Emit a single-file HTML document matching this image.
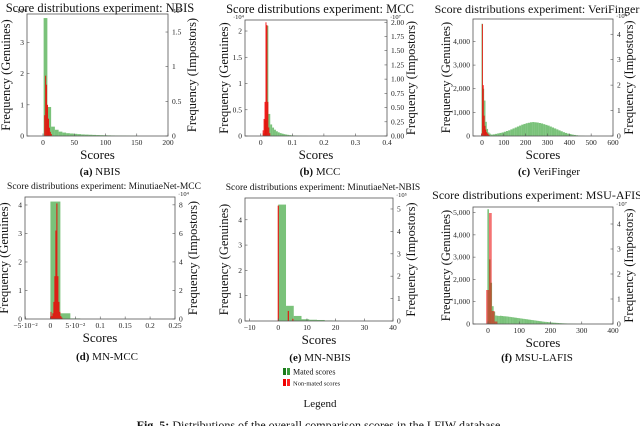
<!DOCTYPE html>
<html><head><meta charset="utf-8"><style>
body{margin:0;background:#fff}
svg{display:block;font-family:"Liberation Serif",serif}
</style></head><body>
<svg id="fig" width="640" height="426" viewBox="0 0 640 426"></svg>
<script>
// ---------- DATA ----------
// (a) NBIS
const aGenStart=1, aGenStep=6;
const aGenCounts=[3.78,0.93,0.3,0.2,0.14,0.11,0.09,0.08,0.07,0.06,0.05,0.045,0.04,0.035,0.03,0.027,0.024,0.02,0.017,0.014,0.012,0.01,0.008,0.006,0.005];
const aImpStart=2, aImpStep=1.5;
const aImpCounts=[0.3,0.87,0.74,0.45,0.25,0.12,0.06,0.03];
// (b) MCC
const bGenStart=0.006, bGenStep=0.006;
const bGenCounts=[0.05,0.3,2.1,0.42,0.22,0.16,0.12,0.09,0.07,0.055,0.045,0.035,0.028,0.022,0.017,0.013,0.01,0.008,0.006,0.004,0.003,0.002,0.002,0.001];
const bImpStart=0.006, bImpStep=0.003;
const bImpCounts=[0.1,0.3,0.6,2.0,1.95,0.6,0.15,0.05];
// (c) VeriFinger
const cGenStart=-2, cGenStep=6;
const cGenCounts=[4750,2000,1500,600,300,150,100];
const cGen2Start=40, cGen2Step=10;
const cGen2Counts=[60,70,90,110,130,150,180,210,240,280,320,360,400,440,480,510,540,560,580,590,580,570,550,530,500,470,440,400,360,320,280,240,200,160,130,100,80,60,45,30,20,12,8];
const cImpStart=-4, cImpStep=4;
const cImpCounts=[0.1,4.4,2.0,0.8,0.4,0.25,0.15,0.1,0.06,0.03];
// (d) MN-MCC
const dGenStart=0, dGenStep=0.02;
const dGenCounts=[4.12,0.2,0.02];
const dImpStart=0, dImpStep=0.002;
const dImpCounts=[0.5,0.2,0.4,1.2,3.0,6.2,8.1,3.0,1.2,0.5,0.2,0.1];
// (e) MN-NBIS
const eGenStart=0, eGenStep=2.7;
const eGenCounts=[4.6,0.6,0.2,0.07,0.05,0.04,0.02,0.01];
const eImpStart=-0.2, eImpStep=0.4;
const eImpCounts=[5.15];
const eImp2Start=3.3, eImp2Step=0.4;
const eImp2Counts=[0.45,0,0,0,0.1];
// (f) MSU-LAFIS
const fGenStart=-2, fGenStep=5;
const fGenCounts=[5150,2900,1850,800,550,380,370,360,370,360,350,345,340,330,320,310,300,290,280,270,260,250,240,230,220,210,200,190,180,170,160,150,140,130,120,110,100,95,90,80,70,65,60,55,50,45,40,35,30,27,24,21,18,15,12,10,8,6,5,4,3,2,2,1,1,1];
const fImpStart=-6, fImpStep=9;
const fImpCounts=[1.36,4.44,0.52,0.1];
// tick arrays
const aXT=[0,50,100,150,200], aYL=[0,1,2,3], aYR=[0,0.5,1,1.5];
const bXT=[0,0.1,0.2,0.3,0.4], bYL=[0,0.5,1,1.5,2], bYR=[0,0.25,0.5,0.75,1,1.25,1.5,1.75,2];
const bYRLab=["0.00","0.25","0.50","0.75","1.00","1.25","1.50","1.75","2.00"];
const cXT=[0,100,200,300,400,500,600], cYL=[0,1000,2000,3000,4000], cYR=[0,1,2,3,4];
const cYLLab=["0","1,000","2,000","3,000","4,000"];
const dXT=[-0.05,0,0.05,0.1,0.15,0.2,0.25], dYL=[0,1,2,3,4], dYR=[0,2,4,6,8];
const dXLab=["−5·10⁻²","0","5·10⁻²","0.1","0.15","0.2","0.25"];
const eXT=[-10,0,10,20,30,40], eYL=[0,1,2,3,4], eYR=[0,1,2,3,4,5];
const eXLab=["−10","0","10","20","30","40"];
const fXT=[0,100,200,300,400], fYL=[0,1000,2000,3000,4000,5000], fYR=[0,1,2,3,4];
const fYLLab=["0","1,000","2,000","3,000","4,000","5,000"];

const NS="http://www.w3.org/2000/svg";
const svg=document.getElementById('fig');
function mk(tag,attrs,parent,txt){const e=document.createElementNS(NS,tag);for(const k in attrs)e.setAttribute(k,attrs[k]);if(txt!==undefined)e.textContent=txt;(parent||svg).appendChild(e);return e;}

function panel(p){
  const g=mk('g',{});
  
  
  const sx=v=>p.x0+(v-p.xmin)/(p.xmax-p.xmin)*(p.x1-p.x0);
  const syL=v=>p.y1-v/p.ylmax*(p.y1-p.y0);
  const syR=v=>p.y1-v/p.yrmax*(p.y1-p.y0);
  const cid='clip-'+p.name;
  const cp=mk('clipPath',{id:cid},g);mk('rect',{x:p.x0,y:p.y0,width:p.x1-p.x0,height:p.y1-p.y0},cp);
  const bars=mk('g',{'clip-path':'url(#'+cid+')'},g);
  p.gen.forEach(s=>{s.counts.forEach((c,i)=>{if(!c)return;const xa=sx(s.start+i*s.step),xb=sx(s.start+(i+1)*s.step);
    const r=mk('rect',{x:xa,y:syL(c),width:Math.max(0.6,xb-xa),height:p.y1-syL(c),fill:'rgba(70,170,70,0.72)'},bars);
    
    });});
  p.imp.forEach(s=>{s.counts.forEach((c,i)=>{if(!c)return;const xa=sx(s.start+i*s.step),xb=sx(s.start+(i+1)*s.step);
    const r=mk('rect',{x:xa,y:syR(c),width:Math.max(0.6,xb-xa),height:p.y1-syR(c),fill:p.red||'rgba(240,0,0,0.9)'},bars);
    
    });});
  mk('rect',{x:p.x0,y:p.y0,width:p.x1-p.x0,height:p.y1-p.y0,fill:'none',stroke:'#555','stroke-width':0.8},g);
  p.xt.forEach((v,i)=>{const x=sx(v);mk('line',{x1:x,x2:x,y1:p.y1,y2:p.y1-2.5,stroke:'#555','stroke-width':0.6},g);
    mk('text',{x:x,y:p.y1+9,'font-size':7.5,'text-anchor':'middle',fill:'#222'},g,p.xl?p.xl[i]:String(v));});
  p.yl.forEach((v,i)=>{const y=syL(v);mk('line',{x1:p.x0,x2:p.x0+2.5,y1:y,y2:y,stroke:'#555','stroke-width':0.6},g);
    mk('text',{x:p.x0-3,y:y+2.5,'font-size':7.5,'text-anchor':'end',fill:'#222'},g,p.yll?p.yll[i]:String(v));});
  p.yr.forEach((v,i)=>{const y=syR(v);mk('line',{x1:p.x1,x2:p.x1-2.5,y1:y,y2:y,stroke:'#555','stroke-width':0.6},g);
    mk('text',{x:p.x1+4,y:y+2.5,'font-size':7.5,'text-anchor':'start',fill:'#222'},g,p.yrl?p.yrl[i]:String(v));});
  if(p.expL)mk('text',{x:p.x0-12,y:p.y0-1,'font-size':6.5,fill:'#222'},g,p.expL);
  if(p.expR)mk('text',{x:p.x1+3,y:p.y0-1,'font-size':6.5,fill:'#222'},g,p.expR);
  const t=mk('text',{x:p.tx,y:p.ty,'font-size':p.tfs,'text-anchor':'middle',fill:'#111'},g,p.title);
  
  const xl=mk('text',{x:(p.x0+p.x1)/2,y:p.y1+23,'font-size':13,'text-anchor':'middle',fill:'#111'},g,'Scores');
  
  const cy=(p.y0+p.y1)/2;
  const ll=mk('text',{x:p.lx,y:cy,'font-size':12.5,'text-anchor':'middle',fill:'#111',transform:'rotate(-90 '+p.lx+' '+cy+')'},g,'Frequency (Genuines)');
  
  const rl=mk('text',{x:p.rx,y:cy,'font-size':12.5,'text-anchor':'middle',fill:'#111',transform:'rotate(-90 '+p.rx+' '+cy+')'},g,'Frequency (Impostors)');
  
  const cap=mk('text',{x:p.cx,y:p.cy,'font-size':11,'text-anchor':'middle',fill:'#111'},g);
  mk('tspan',{'font-weight':'bold'},cap,p.capL+' ');mk('tspan',{},cap,p.capR);
  
}

panel({name:'nbis-panel',x0:27,x1:168,y0:14,y1:136,xmin:-25.6,xmax:200,ylmax:3.91,yrmax:1.76,
 gen:[{start:aGenStart,step:aGenStep,counts:aGenCounts}],imp:[{start:aImpStart,step:aImpStep,counts:aImpCounts}],
 xt:aXT,yl:aYL,yr:aYR,expL:'·10⁴',expR:'·10⁵',title:'Score distributions experiment: NBIS',tx:100,ty:12,tfs:12.5,
 lx:10,rx:196,cx:100,cy:175,capL:'(a)',capR:'NBIS'});
panel({name:'mcc-panel',x0:245,x1:387,y0:20,y1:136,xmin:-0.05,xmax:0.4,ylmax:2.21,yrmax:2.04,
 gen:[{start:bGenStart,step:bGenStep,counts:bGenCounts}],imp:[{start:bImpStart,step:bImpStep,counts:bImpCounts}],
 xt:bXT,yl:bYL,yr:bYR,yrl:bYRLab,expL:'·10⁴',expR:'·10⁷',title:'Score distributions experiment: MCC',tx:320,ty:13,tfs:12.5,
 lx:228,rx:415,cx:320,cy:175,capL:'(b)',capR:'MCC'});
panel({name:'verifinger-panel',x0:473,x1:613,y0:19,y1:136,xmin:-41,xmax:600,ylmax:4950,yrmax:4.6,
 gen:[{start:cGenStart,step:cGenStep,counts:cGenCounts},{start:cGen2Start,step:cGen2Step,counts:cGen2Counts}],imp:[{start:cImpStart,step:cImpStep,counts:cImpCounts}],
 xt:cXT,yl:cYL,yll:cYLLab,yr:cYR,expR:'·10⁴',title:'Score distributions experiment: VeriFinger',tx:537,ty:13,tfs:12,
 lx:450,rx:633,cx:549,cy:175,capL:'(c)',capR:'VeriFinger'});
panel({name:'mn-mcc-panel',x0:25,x1:175,y0:197,y1:319,xmin:-0.051,xmax:0.25,ylmax:4.28,yrmax:8.55,
 gen:[{start:dGenStart,step:dGenStep,counts:dGenCounts}],imp:[{start:dImpStart,step:dImpStep,counts:dImpCounts}],
 xt:dXT,xl:dXLab,yl:dYL,yr:dYR,expR:'·10⁴',title:'Score  distributions experiment: MinutiaeNet-MCC',tx:104,ty:189,tfs:9.5,
 lx:8,rx:197,cx:107,cy:360,capL:'(d)',capR:'MN-MCC'});
panel({name:'mn-nbis-panel',x0:245,x1:393,y0:198,y1:321,xmin:-11.6,xmax:40,ylmax:4.86,yrmax:5.49,
 gen:[{start:eGenStart,step:eGenStep,counts:eGenCounts}],imp:[{start:eImpStart,step:eImpStep,counts:eImpCounts},{start:eImp2Start,step:eImp2Step,counts:eImp2Counts}],
 xt:eXT,xl:eXLab,yl:eYL,yr:eYR,expR:'·10⁵',title:'Score  distributions experiment: MinutiaeNet-NBIS',tx:323,ty:190,tfs:9.5,
 lx:228,rx:415,cx:320,cy:361,capL:'(e)',capR:'MN-NBIS'});
panel({name:'msu-lafis-panel',x0:473,x1:613,y0:207,y1:324,xmin:-48,xmax:400,ylmax:5250,yrmax:4.68,red:'rgba(235,0,0,0.55)',
 gen:[{start:fGenStart,step:fGenStep,counts:fGenCounts}],imp:[{start:fImpStart,step:fImpStep,counts:fImpCounts}],
 xt:fXT,yl:fYL,yll:fYLLab,yr:fYR,expR:'·10⁷',title:'Score distributions experiment: MSU-AFIS',tx:537,ty:199,tfs:12,
 lx:450,rx:633,cx:537,cy:361,capL:'(f)',capR:'MSU-LAFIS'});

// legend
const lg=mk('g',{});


mk('rect',{x:283,y:368,width:3,height:7,fill:'#1a7a1a'},lg);mk('rect',{x:287,y:368,width:3,height:7,fill:'#3a9a3a'},lg);
mk('text',{x:293,y:374.5,'font-size':8,fill:'#111'},lg,'Mated scores');
mk('rect',{x:283,y:379,width:3,height:7,fill:'#e00'},lg);mk('rect',{x:287,y:379,width:3,height:7,fill:'#f22'},lg);
mk('text',{x:293,y:385.5,'font-size':6.5,fill:'#111'},lg,'Non-mated scores');
mk('text',{x:320,y:407,'font-size':11,'text-anchor':'middle',fill:'#111'},lg,'Legend');
const fc=mk('text',{x:320,y:429,'font-size':12,'text-anchor':'middle',fill:'#111'});


mk('tspan',{'font-weight':'bold'},fc,'Fig. 5: ');mk('tspan',{},fc,'Distributions of the overall comparison scores in the LFIW database.');
</script>
</body></html>
